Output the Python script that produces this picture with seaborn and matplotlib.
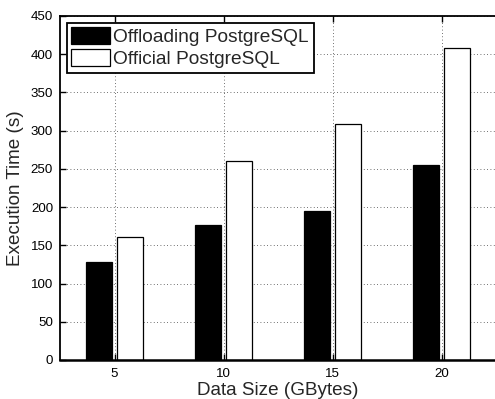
import matplotlib
matplotlib.use("Agg")
import matplotlib.pyplot as plt
import seaborn as sns
import pandas as pd

sizes = ["5", "10", "15", "20"]
offloading = [128, 177, 195, 255]
official = [161, 260, 309, 408]
series_names = ["Offloading PostgreSQL", "Official PostgreSQL"]
yticks = list(range(0, 451, 50))

df = pd.DataFrame({
    "size": sizes * 2,
    "time": offloading + official,
    "series": [series_names[0]] * len(sizes) + [series_names[1]] * len(sizes),
})

sns.set_style("white")
plt.rcParams["font.family"] = ["Liberation Sans", "DejaVu Sans"]

fig = plt.figure(figsize=(4.95, 3.99), dpi=100)
ax = fig.add_axes([60 / 495, 1 - 360 / 399, 436 / 495, 344 / 399])

sns.barplot(data=df, x="size", y="time", hue="series", order=sizes,
            hue_order=series_names, palette=["black", "white"],
            edgecolor="black", linewidth=0.9, width=0.573, gap=0.18,
            saturation=1, errorbar=None, ax=ax)

ax.set_xlim(-0.5, 3.5)
ax.set_ylim(0, 450)
ax.set_yticks(yticks)
ax.set_xlabel("Data Size (GBytes)", fontsize=13.6, labelpad=1)
ax.set_ylabel("Execution Time (s)", fontsize=13.6, labelpad=5)
ax.tick_params(axis="both", direction="in", length=4, width=1, labelsize=9.6,
               top=True, left=True, bottom=True, right=False, colors="black")
ax.tick_params(axis="x", pad=6)
ax.tick_params(axis="y", pad=5)
ax.grid(True, linestyle=(0, (1, 3)), color="black", linewidth=0.6, alpha=0.75)
ax.set_axisbelow(True)
for side in ["left", "top", "bottom"]:
    ax.spines[side].set_visible(True)
    ax.spines[side].set_color("black")
    ax.spines[side].set_linewidth(1.3)
ax.spines["bottom"].set_linewidth(1.8)
ax.spines["right"].set_visible(False)

handles, labels = ax.get_legend_handles_labels()
leg = ax.legend(handles, labels, loc="upper left", bbox_to_anchor=(0.015, 0.981),
                fontsize=13.8, frameon=True, fancybox=False, framealpha=1,
                edgecolor="black", handlelength=2.0, handleheight=1.0,
                handletextpad=0.2, labelspacing=0.12, borderpad=0.25,
                borderaxespad=0)
leg.get_frame().set_linewidth(1.3)

fig.savefig("out.png", dpi=100)
